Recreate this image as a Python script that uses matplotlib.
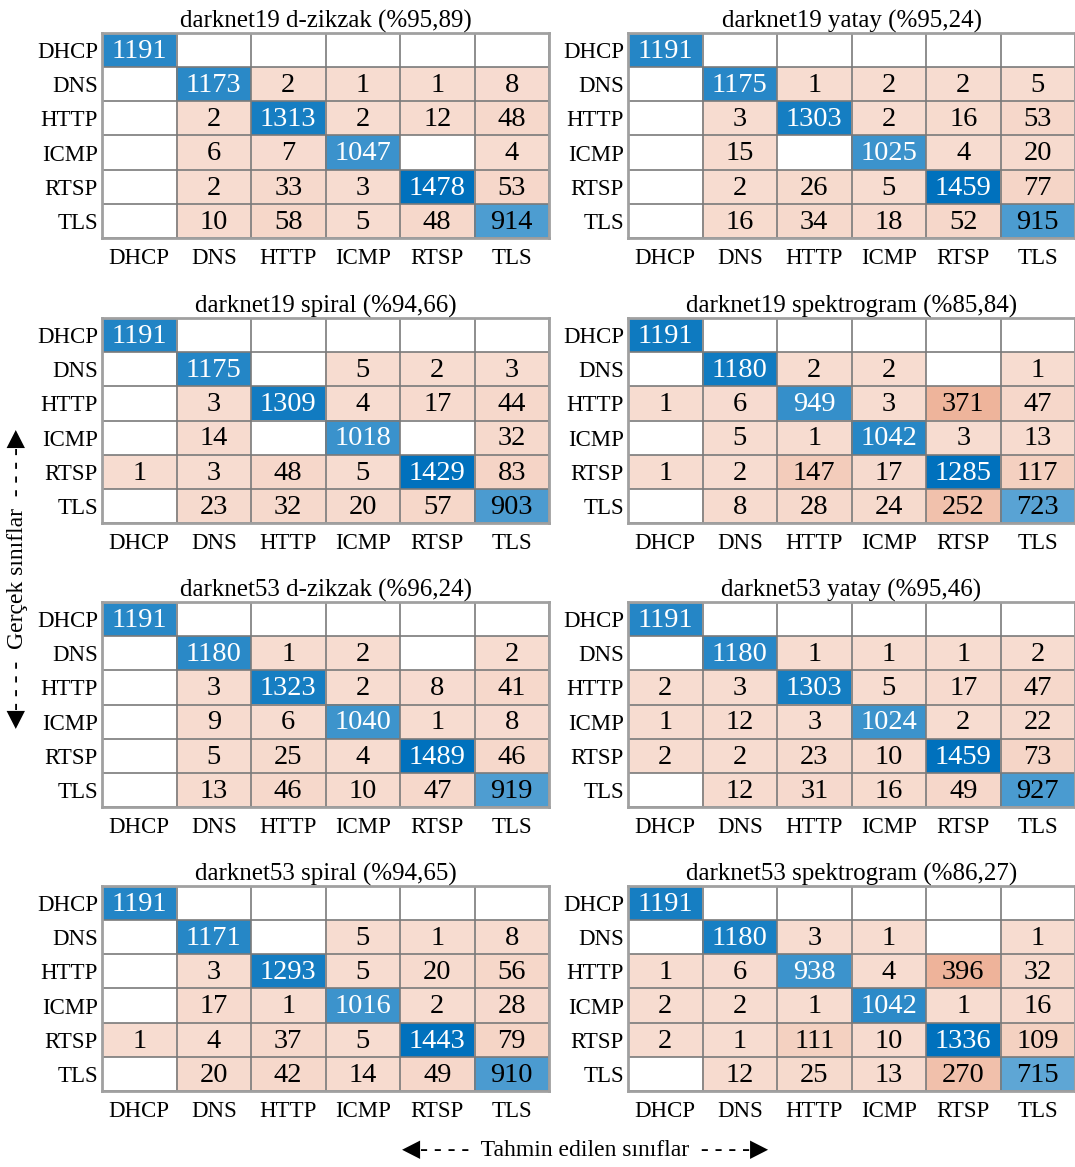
"""Confusion matrices for darknet19 / darknet53 with different image encodings."""
import numpy as np
import matplotlib
matplotlib.use('Agg')
import matplotlib.pyplot as plt

plt.rcParams['font.family'] = ['Liberation Serif', 'DejaVu Serif', 'DejaVu Sans']

CLASSES = ['DHCP', 'DNS', 'HTTP', 'ICMP', 'RTSP', 'TLS']

TITLES = [
    'darknet19 d-zikzak (%95,89)', 'darknet19 yatay (%95,24)',
    'darknet19 spiral (%94,66)', 'darknet19 spektrogram (%85,84)',
    'darknet53 d-zikzak (%96,24)', 'darknet53 yatay (%95,46)',
    'darknet53 spiral (%94,65)', 'darknet53 spektrogram (%86,27)',
]

d19_zikzak = [
    [1191, 0, 0, 0, 0, 0],
    [0, 1173, 2, 1, 1, 8],
    [0, 2, 1313, 2, 12, 48],
    [0, 6, 7, 1047, 0, 4],
    [0, 2, 33, 3, 1478, 53],
    [0, 10, 58, 5, 48, 914],
]
d19_yatay = [
    [1191, 0, 0, 0, 0, 0],
    [0, 1175, 1, 2, 2, 5],
    [0, 3, 1303, 2, 16, 53],
    [0, 15, 0, 1025, 4, 20],
    [0, 2, 26, 5, 1459, 77],
    [0, 16, 34, 18, 52, 915],
]
d19_spiral = [
    [1191, 0, 0, 0, 0, 0],
    [0, 1175, 0, 5, 2, 3],
    [0, 3, 1309, 4, 17, 44],
    [0, 14, 0, 1018, 0, 32],
    [1, 3, 48, 5, 1429, 83],
    [0, 23, 32, 20, 57, 903],
]
d19_spektro = [
    [1191, 0, 0, 0, 0, 0],
    [0, 1180, 2, 2, 0, 1],
    [1, 6, 949, 3, 371, 47],
    [0, 5, 1, 1042, 3, 13],
    [1, 2, 147, 17, 1285, 117],
    [0, 8, 28, 24, 252, 723],
]
d53_zikzak = [
    [1191, 0, 0, 0, 0, 0],
    [0, 1180, 1, 2, 0, 2],
    [0, 3, 1323, 2, 8, 41],
    [0, 9, 6, 1040, 1, 8],
    [0, 5, 25, 4, 1489, 46],
    [0, 13, 46, 10, 47, 919],
]
d53_yatay = [
    [1191, 0, 0, 0, 0, 0],
    [0, 1180, 1, 1, 1, 2],
    [2, 3, 1303, 5, 17, 47],
    [1, 12, 3, 1024, 2, 22],
    [2, 2, 23, 10, 1459, 73],
    [0, 12, 31, 16, 49, 927],
]
d53_spiral = [
    [1191, 0, 0, 0, 0, 0],
    [0, 1171, 0, 5, 1, 8],
    [0, 3, 1293, 5, 20, 56],
    [0, 17, 1, 1016, 2, 28],
    [1, 4, 37, 5, 1443, 79],
    [0, 20, 42, 14, 49, 910],
]
d53_spektro = [
    [1191, 0, 0, 0, 0, 0],
    [0, 1180, 3, 1, 0, 1],
    [1, 6, 938, 4, 396, 32],
    [2, 2, 1, 1042, 1, 16],
    [2, 1, 111, 10, 1336, 109],
    [0, 12, 25, 13, 270, 715],
]

MATRICES = [d19_zikzak, d19_yatay, d19_spiral, d19_spektro,
            d53_zikzak, d53_yatay, d53_spiral, d53_spektro]

DIAG_COLOR = np.array([0, 114, 189]) / 255
OFF_COLOR = np.array([217, 83, 25]) / 255


def cell_colors(cm):
    """MATLAB confusionchart-like shading: white blended to base colour."""
    cm = np.asarray(cm, dtype=float)
    alpha = 0.2 + 0.8 * cm / cm.max()
    rgb = np.ones(cm.shape + (3,))
    n = cm.shape[0]
    for i in range(n):
        for j in range(n):
            if cm[i, j] == 0:
                continue
            base = DIAG_COLOR if i == j else OFF_COLOR
            rgb[i, j] = 1 - alpha[i, j] * (1 - base)
    return rgb, alpha


def draw_matrix(ax, cm, title):
    rgb, alpha = cell_colors(cm)
    n = len(CLASSES)
    ax.imshow(rgb, aspect='auto', interpolation='nearest')
    for i in range(n):
        for j in range(n):
            v = cm[i][j]
            if v == 0:
                continue
            color = 'white' if (i == j and alpha[i, j] > 0.73) else 'black'
            ax.text(j, i + 0.04, str(v), ha='center', va='center',
                    fontsize=20.5, color=color)
    ax.set_xticks(range(n))
    ax.set_yticks(range(n))
    ax.set_xticklabels(CLASSES, fontsize=16.5)
    ax.set_yticklabels(CLASSES, fontsize=16.5)
    ax.set_xticks(np.arange(-0.5, n, 1), minor=True)
    ax.set_yticks(np.arange(-0.5, n, 1), minor=True)
    ax.grid(which='minor', color='#7a7a7a', linewidth=1.2)
    ax.tick_params(which='both', length=0)
    ax.tick_params(axis='x', pad=7)
    ax.tick_params(axis='y', pad=3)
    for sp in ax.spines.values():
        sp.set_color('#a0a0a0')
        sp.set_linewidth(2)
    ax.set_title(title, fontsize=18, pad=2)


W, H = 1075, 1167
fig = plt.figure(figsize=(W / 100, H / 100), dpi=100)

lefts = [102, 628]
tops = [33, 318, 602, 886]
gw, gh = 447, 205

for k, (cm, title) in enumerate(zip(MATRICES, TITLES)):
    r, c = divmod(k, 2)
    ax = fig.add_axes([lefts[c] / W, 1 - (tops[r] + gh) / H, gw / W, gh / H])
    draw_matrix(ax, cm, title)

fig.text(585 / W, 1 - 1150 / H, '◀- - - -  Tahmin edilen sınıflar  - - - -▶',
         ha='center', va='center', fontsize=17)
fig.text(18 / W, 1 - 578 / H, '◀- - - -  Gerçek sınıflar  - - - -▶',
         ha='center', va='center', fontsize=17, rotation=90)

fig.savefig('out.png', dpi=100)
